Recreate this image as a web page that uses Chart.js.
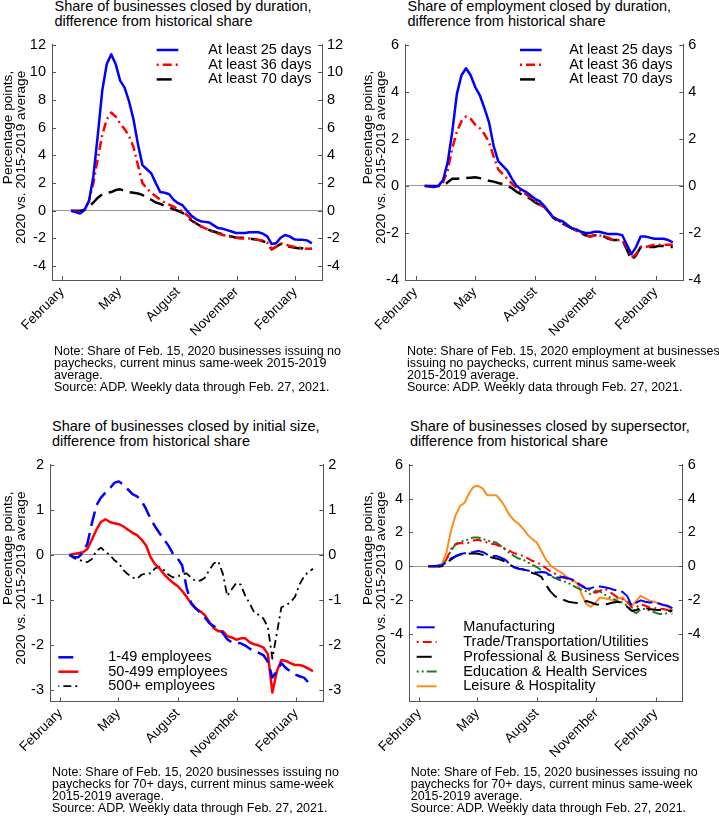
<!DOCTYPE html>
<html>
<head>
<meta charset="utf-8">
<script src="https://cdn.jsdelivr.net/npm/chart.js@4.4.1/dist/chart.umd.min.js"></script>
<style>
  html, body { margin: 0; padding: 0; background: #fff; }
  body { width: 719px; height: 818px; position: relative; overflow: hidden;
         font-family: 'Liberation Sans', Arial, Helvetica, sans-serif; color: #000; }
  canvas { position: absolute; }
  .ttl { position: absolute; font-size: 14.5px; line-height: 14.5px; white-space: nowrap; }
  .note { position: absolute; font-size: 12.5px; line-height: 11.9px; white-space: nowrap; }
</style>
</head>
<body>
<canvas id="c1" width="360" height="320" style="left:0px;top:30px"></canvas>
<canvas id="c2" width="359" height="320" style="left:360px;top:30px"></canvas>
<canvas id="c3" width="360" height="320" style="left:0px;top:450px"></canvas>
<canvas id="c4" width="359" height="320" style="left:360px;top:450px"></canvas>

<div class="ttl" style="left:54.5px;top:-0.6px">Share of businesses closed by duration,<br>difference from historical share</div>
<div class="ttl" style="left:407.5px;top:-0.6px">Share of employment closed by duration,<br>difference from historical share</div>
<div class="ttl" style="left:52px;top:419.4px">Share of businesses closed by initial size,<br>difference from historical share</div>
<div class="ttl" style="left:410px;top:419.4px">Share of businesses closed by supersector,<br>difference from historical share</div>

<div class="note" style="left:54px;top:346.4px">Note: Share of Feb. 15, 2020 businesses issuing no<br>paychecks, current minus same-week 2015-2019<br>average.<br>Source: ADP. Weekly data through Feb. 27, 2021.</div>
<div class="note" style="left:407px;top:346.4px">Note: Share of Feb. 15, 2020 employment at businesses<br>issuing no paychecks, current minus same-week<br>2015-2019 average.<br>Source: ADP. Weekly data through Feb. 27, 2021.</div>
<div class="note" style="left:52px;top:767.4px">Note: Share of Feb. 15, 2020 businesses issuing no<br>paychecks for 70+ days, current minus same-week<br>2015-2019 average.<br>Source: ADP. Weekly data through Feb. 27, 2021.</div>
<div class="note" style="left:410.7px;top:767.4px">Note: Share of Feb. 15, 2020 businesses issuing no<br>paychecks for 70+ days, current minus same-week<br>2015-2019 average.<br>Source: ADP. Weekly data through Feb. 27, 2021.</div>

<script>
// ---------------- DATA ----------------
const weekDates = [
  '2020-02-15','2020-02-22','2020-02-29','2020-03-07','2020-03-14','2020-03-21','2020-03-28',
  '2020-04-04','2020-04-11','2020-04-18','2020-04-25','2020-05-02','2020-05-09','2020-05-16',
  '2020-05-23','2020-05-30','2020-06-06','2020-06-13','2020-06-20','2020-06-27','2020-07-04',
  '2020-07-11','2020-07-18','2020-07-25','2020-08-01','2020-08-08','2020-08-15','2020-08-22',
  '2020-08-29','2020-09-05','2020-09-12','2020-09-19','2020-09-26','2020-10-03','2020-10-10',
  '2020-10-17','2020-10-24','2020-10-31','2020-11-07','2020-11-14','2020-11-21','2020-11-28',
  '2020-12-05','2020-12-12','2020-12-19','2020-12-26','2021-01-02','2021-01-09','2021-01-16',
  '2021-01-23','2021-01-30','2021-02-06','2021-02-13','2021-02-20','2021-02-27'
];
const xTickDates  = ['2020-02-01','2020-05-01','2020-08-01','2020-11-01','2021-02-01'];
const xTickLabels = ['February','May','August','November','February'];
const xRangeDates = ['2020-01-16','2021-03-15'];

const yTitleLines = ['Percentage points,', '2020 vs. 2015-2019 average'];

// Panel 1: businesses closed by duration
const bizDurLabels = ['At least 25 days','At least 36 days','At least 70 days'];
const bizDur25 = [0,-0.1,-0.2,0.05,0.7, 2.5,5.5,8.7,10.6,11.3, 10.6,9.4,8.9,7.9,6.6, 4.8,3.3,3.0,2.7,2.0,
  1.35,1.3,1.2,0.8,0.55, 0.4,0.0,-0.35,-0.6,-0.75, -0.8,-0.85,-1.05,-1.25,-1.3, -1.4,-1.5,-1.6,-1.6,-1.6,
  -1.55,-1.55,-1.55,-1.65,-1.85, -2.4,-2.35,-1.95,-1.75,-1.85, -2.05,-2.1,-2.1,-2.15,-2.35];
const bizDur36 = [0,-0.05,-0.1,0.1,0.7, 2.0,3.8,5.5,6.6,7.1, 6.8,6.3,5.9,5.4,4.6, 3.3,2.0,1.6,1.3,1.05,
  0.8,0.6,0.45,0.3,0.1, -0.05,-0.3,-0.6,-0.9,-1.1, -1.25,-1.4,-1.55,-1.65,-1.75, -1.8,-1.9,-1.95,-2.0,-2.0,
  -2.0,-2.05,-2.1,-2.15,-2.3, -2.75,-2.6,-2.35,-2.4,-2.55, -2.6,-2.65,-2.7,-2.75,-2.75];
const bizDur70 = [0,0,0,0.05,0.3, 0.6,0.95,1.2,1.3,1.35, 1.5,1.55,1.45,1.35,1.3, 1.25,1.15,0.9,0.8,0.6,
  0.5,0.35,0.25,0.1,0.0, -0.15,-0.4,-0.7,-0.9,-1.1, -1.25,-1.4,-1.5,-1.6,-1.7, -1.8,-1.85,-1.95,-1.95,-1.95,
  -2.0,-2.05,-2.1,-2.2,-2.3, -2.8,-2.6,-2.4,-2.45,-2.6, -2.65,-2.7,-2.7,-2.75,-2.75];
const yTicksBiz = [-4,-2,0,2,4,6,8,10,12];

// Panel 2: employment closed by duration
const empDur25 = [0,-0.02,-0.05,0,0.25, 1.0,2.3,3.9,4.7,5.0, 4.7,4.2,3.85,3.3,2.7, 1.7,1.05,0.85,0.65,0.3,
  0,-0.15,-0.25,-0.4,-0.55, -0.65,-0.85,-1.1,-1.35,-1.45, -1.5,-1.65,-1.8,-1.85,-1.95, -2.0,-2.0,-1.95,-1.95,-2.0,
  -2.05,-2.05,-2.05,-2.1,-2.5, -2.9,-2.6,-2.15,-2.15,-2.2, -2.25,-2.25,-2.25,-2.3,-2.4];
const empDur36 = [0,-0.02,-0.05,0,0.15, 0.65,1.6,2.3,2.75,2.95, 2.85,2.6,2.45,2.2,1.85, 1.25,0.7,0.5,0.3,0.1,
  -0.1,-0.25,-0.35,-0.5,-0.65, -0.8,-0.9,-1.1,-1.3,-1.45, -1.6,-1.7,-1.8,-1.9,-2.0, -2.1,-2.15,-2.1,-2.1,-2.15,
  -2.2,-2.3,-2.3,-2.3,-2.6, -3.05,-2.9,-2.6,-2.6,-2.55, -2.5,-2.5,-2.5,-2.5,-2.5];
const empDur70 = [0,0,0,0,0, 0.15,0.3,0.3,0.33,0.33, 0.35,0.37,0.33,0.28,0.22, 0.18,0.12,0.08,0,-0.1,
  -0.25,-0.35,-0.45,-0.55,-0.7, -0.8,-0.9,-1.1,-1.35,-1.5, -1.6,-1.7,-1.8,-1.9,-2.0, -2.1,-2.15,-2.1,-2.1,-2.15,
  -2.25,-2.3,-2.3,-2.3,-2.7, -3.15,-2.95,-2.6,-2.6,-2.6, -2.6,-2.55,-2.55,-2.6,-2.6];
const yTicksEmp = [-4,-2,0,2,4,6];

// Panel 3: businesses closed by initial size
const sizeLabels = ['1-49 employees','50-499 employees','500+ employees'];
const size1to49 = [0,-0.05,-0.05,0.05,0.25, 0.7,1.1,1.27,1.38,1.48, 1.6,1.63,1.55,1.45,1.35, 1.3,1.2,1.02,0.8,0.63,
  0.48,0.34,0.2,0.02,-0.08, -0.23,-0.73,-1.07,-1.18,-1.28, -1.38,-1.51,-1.58,-1.64,-1.73, -1.87,-1.94,-1.95,-1.96,-2.01,
  -2.08,-2.13,-2.17,-2.22,-2.37, -2.72,-2.58,-2.4,-2.51,-2.58, -2.65,-2.69,-2.72,-2.83,-2.87];
const size50to499 = [0,0.02,0.04,0.06,0.13, 0.34,0.56,0.73,0.79,0.73, 0.7,0.68,0.63,0.56,0.49, 0.44,0.34,0.21,-0.05,-0.21,
  -0.3,-0.43,-0.53,-0.62,-0.69, -0.8,-0.93,-1.08,-1.19,-1.25, -1.33,-1.48,-1.62,-1.69,-1.69, -1.8,-1.83,-1.88,-1.85,-1.85,
  -1.94,-1.98,-2.01,-2.05,-2.2, -3.05,-2.58,-2.33,-2.35,-2.4, -2.44,-2.44,-2.47,-2.52,-2.58];
const size500plus = [0,-0.07,-0.1,-0.14,-0.16, -0.09,0.09,0.16,0.07,0.0, -0.12,-0.19,-0.34,-0.43,-0.5, -0.53,-0.44,-0.41,-0.41,-0.3,
  -0.26,-0.34,-0.44,-0.5,-0.48, -0.43,-0.41,-0.51,-0.58,-0.57, -0.51,-0.34,-0.19,-0.14,-0.41, -0.91,-0.76,-0.62,-0.66,-0.91,
  -1.08,-1.28,-1.33,-1.41,-1.6, -2.3,-1.73,-1.16,-1.12,-1.05, -0.93,-0.66,-0.48,-0.37,-0.31];
const yTicksSize = [-3,-2,-1,0,1,2];

// Panel 4: businesses closed by supersector
const sectorLabels = ['Manufacturing','Trade/Transportation/Utilities','Professional & Business Services',
  'Education & Health Services','Leisure & Hospitality'];
const secManufacturing = [0,0,0.02,0.05,0.23, 0.46,0.6,0.7,0.76,0.8, 0.84,0.9,0.84,0.7,0.6, 0.6,0.51,0.38,0.13,-0.06,
  -0.15,-0.19,-0.25,-0.34,-0.38, -0.34,-0.38,-0.53,-0.63,-0.69, -0.63,-0.72,-0.82,-1.0,-1.2, -1.33,-1.3,-1.2,-1.2,-1.24,
  -1.3,-1.39,-1.45,-1.52,-1.77, -2.34,-2.15,-2.02,-2.1,-2.15, -2.15,-2.21,-2.29,-2.34,-2.48];
const secTrade = [0,0,0,0.05,0.4, 1.0,1.28,1.37,1.33,1.4, 1.52,1.56,1.47,1.4,1.33, 1.28,1.14,1.03,0.9,0.76,
  0.7,0.6,0.46,0.32,0.23, 0.08,-0.11,-0.3,-0.44,-0.57, -0.69,-0.78,-0.88,-1.0,-1.14, -1.3,-1.45,-1.58,-1.45,-1.33,
  -1.49,-1.68,-1.87,-1.96,-2.05, -2.44,-2.44,-2.25,-2.34,-2.44, -2.48,-2.5,-2.53,-2.6,-2.82];
const secProfessional = [0,0,-0.02,0,0.19, 0.38,0.57,0.69,0.7,0.74, 0.76,0.74,0.67,0.61,0.51, 0.46,0.38,0.27,0.08,-0.06,
  -0.15,-0.19,-0.3,-0.4,-0.48, -0.63,-1.1,-1.49,-1.77,-1.9, -2.0,-2.1,-2.15,-2.17,-2.15, -2.06,-2.15,-2.25,-2.29,-2.29,
  -2.21,-2.15,-2.1,-2.21,-2.4, -2.63,-2.59,-2.48,-2.48,-2.53, -2.57,-2.59,-2.59,-2.63,-2.63];
const secEduHealth = [0,0,-0.05,0.02,0.4, 0.9,1.3,1.45,1.5,1.6, 1.7,1.7,1.62,1.52,1.45, 1.4,1.2,1.0,0.75,0.6,
  0.45,0.38,0.22,0.08,-0.05, -0.25,-0.45,-0.57,-0.7,-0.82, -0.9,-1.0,-1.15,-1.3,-1.4, -1.5,-1.68,-1.45,-1.5,-1.68,
  -1.83,-1.95,-2.1,-2.15,-2.35, -2.63,-2.78,-2.53,-2.53,-2.63, -2.72,-2.82,-2.82,-2.78,-2.63];
const secLeisure = [0,0,0.05,0.13,0.8, 2.1,3.0,3.55,3.75,4.3, 4.7,4.75,4.6,4.2,4.2, 4.2,3.9,3.5,3.0,2.7,
  2.5,2.2,1.85,1.6,1.4, 0.9,0.4,0.05,-0.15,-0.3, -0.5,-0.7,-0.8,-1.05,-1.7, -2.25,-2.4,-2.15,-1.85,-1.9,
  -1.95,-2.05,-1.9,-1.85,-2.15, -2.35,-2.05,-1.75,-1.9,-2.05, -2.1,-2.2,-2.3,-2.4,-2.6];
const yTicksSector = [-4,-2,0,2,4,6];

// ---------------- RENDERING ----------------
const FONT = "'Liberation Sans', Arial, Helvetica, sans-serif";
const AXIS = '#555';
const ZERO = '#9a9a9a';
function dayOf(s) { const p = s.split('-').map(Number); return (Date.UTC(p[0], p[1]-1, p[2]) - Date.UTC(2020, 1, 1)) / 86400000; }
const weekX = weekDates.map(dayOf);
const xTickX = xTickDates.map(dayOf);
const xMin = dayOf(xRangeDates[0]), xMax = dayOf(xRangeDates[1]);

const panelExtras = {
  id: 'panelExtras',
  beforeDatasetsDraw(chart, args, o) {
    const { ctx, chartArea: a, scales } = chart;
    ctx.save();
    ctx.strokeStyle = AXIS; ctx.lineWidth = 1; ctx.beginPath();
    const L = o.tickLen;
    scales.y.ticks.forEach(t => {
      const p = Math.round(scales.y.getPixelForValue(t.value)) + 0.5;
      ctx.moveTo(a.left, p); ctx.lineTo(a.left + L, p);
      ctx.moveTo(a.right, p); ctx.lineTo(a.right - L, p);
    });
    scales.x.ticks.forEach(t => {
      const p = Math.round(scales.x.getPixelForValue(t.value)) + 0.5;
      ctx.moveTo(p, a.bottom); ctx.lineTo(p, a.bottom - L);
    });
    ctx.stroke(); ctx.restore();
  },
  afterDraw(chart, args, o) {
    const { ctx, chartArea: a } = chart;
    ctx.save();
    ctx.fillStyle = '#000';
    ctx.font = o.titleSize + 'px ' + FONT;
    ctx.textBaseline = 'middle'; ctx.textAlign = 'right';
    const w = Math.max(...yTitleLines.map(l => ctx.measureText(l).width));
    const yEnd = (a.top + a.bottom) / 2 - w / 2 - o.titleShift;
    yTitleLines.forEach((l, i) => {
      ctx.save(); ctx.translate(o.titleX[i], yEnd); ctx.rotate(-Math.PI / 2); ctx.fillText(l, 0, 0); ctx.restore();
    });
    const lg = o.legend;
    chart.data.datasets.forEach((d, i) => {
      const y = lg.y0 + i * lg.rowH;
      ctx.save();
      ctx.strokeStyle = d.borderColor; ctx.lineWidth = d.borderWidth;
      ctx.setLineDash(d.borderDash || []); ctx.lineDashOffset = (lg.dashOffset && lg.dashOffset[i]) || 0;
      ctx.beginPath(); ctx.moveTo(lg.x1, y); ctx.lineTo(lg.x2, y); ctx.stroke();
      ctx.restore();
      ctx.font = lg.size + 'px ' + FONT; ctx.textAlign = 'left'; ctx.textBaseline = 'middle';
      ctx.fillText(d.label, lg.textX, y);
    });
    ctx.restore();
  }
};

function makePanel(id, p) {
  const el = document.getElementById(id);
  const W = el.width, H = el.height;
  const tickFont = { family: FONT, size: 14.5 };
  new Chart(el, {
    type: 'line',
    data: {
      datasets: p.series.map(s => ({
        label: s.label,
        data: s.values.map((v, i) => ({ x: weekX[i], y: v })),
        borderColor: s.color, borderWidth: s.width, borderDash: s.dash || [],
        pointRadius: 0, fill: false, tension: 0, borderJoinStyle: 'round', borderCapStyle: 'butt',
        yAxisID: 'y'
      }))
    },
    options: {
      responsive: false, animation: false, events: [],
      layout: { padding: { top: p.area.top, left: 0, right: 0, bottom: 0 } },
      plugins: {
        legend: { display: false }, tooltip: { enabled: false },
        panelExtras: { tickLen: 4, titleSize: 13.6, titleShift: 5, titleX: [8, 21.5], legend: p.legend }
      },
      scales: {
        x: {
          type: 'linear', min: xMin, max: xMax,
          afterBuildTicks: s => { s.ticks = xTickX.map(v => ({ value: v })); },
          afterFit: s => { s.height = H - p.area.bottom; },
          grid: { display: false, drawTicks: false },
          border: { display: true, color: AXIS, width: 1 },
          ticks: {
            autoSkip: false, minRotation: 45, maxRotation: 45, padding: 4, color: '#000',
            font: { family: FONT, size: 13.5 },
            callback: v => { const k = xTickX.indexOf(v); return k >= 0 ? xTickLabels[k] : ''; }
          }
        },
        y: {
          type: 'linear', position: 'left', min: p.yMin, max: p.yMax,
          afterBuildTicks: s => { s.ticks = p.yTicks.map(v => ({ value: v })); },
          afterFit: s => { s.width = p.area.left; },
          grid: { display: true, drawTicks: false, lineWidth: 1,
                  color: c => (c.tick && c.tick.value === 0) ? ZERO : 'rgba(0,0,0,0)' },
          border: { display: true, color: AXIS, width: 1 },
          ticks: { padding: 6, color: '#000', font: tickFont, callback: v => String(v) }
        },
        y2: {
          type: 'linear', position: 'right', min: p.yMin, max: p.yMax,
          afterBuildTicks: s => { s.ticks = p.yTicks.map(v => ({ value: v })); },
          afterFit: s => { s.width = W - p.area.right; },
          grid: { display: false, drawTicks: false },
          border: { display: true, color: AXIS, width: 1 },
          ticks: { padding: 5, color: '#000', font: tickFont, callback: v => String(v) }
        }
      }
    },
    plugins: [panelExtras]
  });
}

const BLUE = '#0000ff', RED = '#ff0000', BLACK = '#000000', GREEN = '#1e7b1e', ORANGE = '#ff8c1a';
const DASHDOT = [9, 4, 2, 4], LONGDASH = [15, 7];

makePanel('c1', {
  yMin: -5, yMax: 12, yTicks: yTicksBiz,
  area: { left: 52, right: 322, top: 4.5, bottom: 250 },
  legend: { x1: 156.7, x2: 178.3, textX: 208.3, y0: 20, rowH: 14.7, size: 14.5, dashOffset: [0, 13, 0] },
  series: [
    { label: bizDurLabels[0], values: bizDur25, color: BLUE, width: 2.5 },
    { label: bizDurLabels[1], values: bizDur36, color: RED, width: 2.5, dash: DASHDOT },
    { label: bizDurLabels[2], values: bizDur70, color: BLACK, width: 2.5, dash: LONGDASH }
  ]
});
makePanel('c2', {
  yMin: -4, yMax: 6, yTicks: yTicksEmp,
  area: { left: 45, right: 323.3, top: 4.5, bottom: 250 },
  legend: { x1: 160, x2: 181.7, textX: 209.3, y0: 20, rowH: 14.7, size: 14.5, dashOffset: [0, 13, 0] },
  series: [
    { label: bizDurLabels[0], values: empDur25, color: BLUE, width: 2.5 },
    { label: bizDurLabels[1], values: empDur36, color: RED, width: 2.5, dash: DASHDOT },
    { label: bizDurLabels[2], values: empDur70, color: BLACK, width: 2.5, dash: LONGDASH }
  ]
});
makePanel('c3', {
  yMin: -3.25, yMax: 2, yTicks: yTicksSize,
  area: { left: 50, right: 323.3, top: 5.7, bottom: 251.5 },
  legend: { x1: 58.3, x2: 78.3, textX: 108.3, y0: 207.3, rowH: 14.4, size: 14.5, dashOffset: [0, 0, 13] },
  series: [
    { label: sizeLabels[0], values: size1to49, color: BLUE, width: 2.5, dash: LONGDASH },
    { label: sizeLabels[1], values: size50to499, color: RED, width: 2.5 },
    { label: sizeLabels[2], values: size500plus, color: BLACK, width: 1.8, dash: [8, 4, 2, 4] }
  ]
});
makePanel('c4', {
  yMin: -8, yMax: 6, yTicks: yTicksSector,
  area: { left: 49, right: 322.7, top: 5.7, bottom: 251.5 },
  legend: { x1: 56.7, x2: 76.7, textX: 103.3, y0: 177.3, rowH: 14.75, size: 14.5, dashOffset: [0, 13, 0, 0, 0] },
  series: [
    { label: sectorLabels[0], values: secManufacturing, color: BLUE, width: 2, dash: [18, 5] },
    { label: sectorLabels[1], values: secTrade, color: RED, width: 2, dash: DASHDOT },
    { label: sectorLabels[2], values: secProfessional, color: BLACK, width: 2, dash: LONGDASH },
    { label: sectorLabels[3], values: secEduHealth, color: GREEN, width: 2, dash: [2, 3, 2, 3, 10, 3] },
    { label: sectorLabels[4], values: secLeisure, color: ORANGE, width: 2 }
  ]
});
</script>
</body>
</html>
